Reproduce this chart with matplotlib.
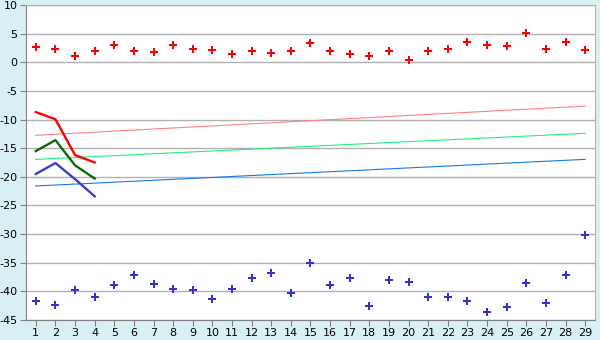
import numpy as np
import matplotlib
matplotlib.use("Agg")
import matplotlib.pyplot as plt

days = list(range(1, 30))

red_points = [2.6, 2.4, 1.05, 1.9, 3.0, 1.9, 1.75, 3.0, 2.3, 2.1, 1.4, 1.9, 1.55, 1.9,
              3.3, 1.9, 1.4, 1.05, 1.9, 0.35, 1.9, 2.4, 3.5, 3.0, 2.8, 5.05, 2.3, 3.5, 2.1]
blue_points = [-41.6, -42.4, -39.8, -40.9, -38.9, -37.2, -38.8, -39.6, -39.8, -41.4,
               -39.6, -37.7, -36.8, -40.2, -35.1, -38.9, -37.7, -42.6, -38.1, -38.4,
               -40.9, -40.9, -41.7, -43.6, -42.8, -38.6, -42.1, -37.2, -30.2]

short_days = [1, 2, 3, 4]
red_line = [-8.7, -9.95, -16.2, -17.5]
green_line = [-15.5, -13.6, -18.0, -20.3]
blue_line = [-19.5, -17.6, -20.4, -23.4]

trend_days = [1, 29]
red_trend = [-12.75, -7.65]
green_trend = [-16.95, -12.4]
blue_trend = [-21.6, -16.95]

fig = plt.figure(figsize=(6, 3.4), dpi=100, facecolor="#d9eff6")
ax = fig.add_axes([26 / 600, 20 / 340, 569 / 600, 315 / 340])
ax.set_facecolor("white")

ax.plot(trend_days, red_trend, color="#ff8080", lw=0.8)
ax.plot(trend_days, green_trend, color="#1ef07a", lw=0.8)
ax.plot(trend_days, blue_trend, color="#1478e6", lw=0.8)

ax.plot(short_days, red_line, color="#ff0000", lw=1.7)
ax.plot(short_days, green_line, color="#0a6a0a", lw=1.7)
ax.plot(short_days, blue_line, color="#3c3ccc", lw=1.7)

ax.plot(days, red_points, ls="none", marker="P", ms=5.5, color="#ff0000", mew=0)
ax.plot(days, blue_points, ls="none", marker="P", ms=5.5, color="#3333cc", mew=0)

ax.set_xlim(0.5, 29.5)
ax.set_ylim(-45, 10)
ax.set_xticks(days)
ax.set_yticks(np.arange(-45, 11, 5))
ax.set_yticklabels([str(v) for v in range(-45, 11, 5)])
ax.grid(axis="y", color="#b0b0b0", lw=1)
ax.set_axisbelow(True)
ax.tick_params(labelsize=8, length=4, color="#808080", pad=2)

for side in ["left", "bottom"]:
    ax.spines[side].set_color("#808080")
for side in ["right", "top"]:
    ax.spines[side].set_color("#b0b0b0")

fig.savefig("out.png", dpi=100, facecolor=fig.get_facecolor())
